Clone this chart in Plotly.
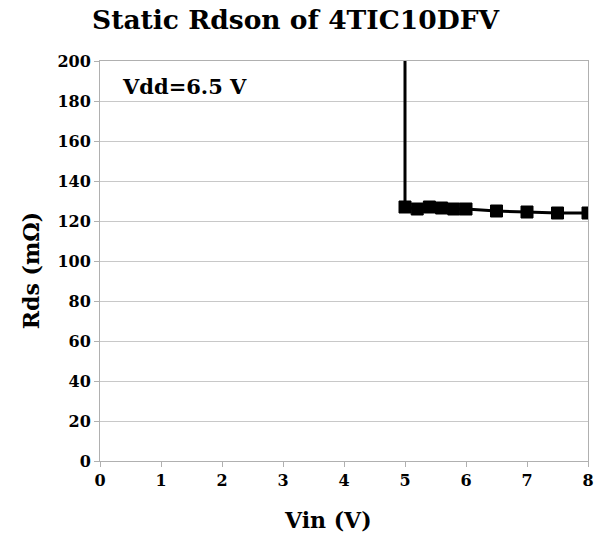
import plotly.graph_objects as go

vin = [5.0, 5.0, 5.2, 5.4, 5.6, 5.8, 6.0, 6.5, 7.0, 7.5, 8.0]
rds = [1000, 127, 126, 127, 126.5, 126, 126, 125, 124.5, 124, 124]
marker_sizes = [0, 12, 12, 12, 12, 12, 12, 12, 12, 12, 12]

x_ticks = [0, 1, 2, 3, 4, 5, 6, 7, 8]
y_ticks = [0, 20, 40, 60, 80, 100, 120, 140, 160, 180, 200]

font_family = "DejaVu Serif"

fig = go.Figure()
fig.add_trace(go.Scatter(
    x=vin, y=rds, mode="lines+markers",
    line=dict(color="black", width=3),
    marker=dict(symbol="square", size=marker_sizes, color="black", opacity=1,
                line=dict(color="black", width=1)),
    cliponaxis=True, showlegend=False,
))

def ann(text, x, y, size, **kw):
    return dict(text=f"<b>{text}</b>", x=x, y=y, xref="paper", yref="paper",
                showarrow=False, font=dict(family=font_family, size=size, color="black"), **kw)

fig.update_layout(
    width=594, height=536,
    margin=dict(l=92, r=14, t=53, b=83),
    paper_bgcolor="white", plot_bgcolor="white",
    font=dict(family=font_family, color="black"),
    annotations=[
        ann("Static Rdson of 4TIC10DFV", 0.401, 1.0, 26.5, xanchor="center", yanchor="bottom", yshift=24),
        ann("Vdd=6.5 V", 0.041, 0.9375, 21, xanchor="left", yanchor="middle"),
        ann("Vin (V)", 0.467, -0.1475, 22, xanchor="center", yanchor="middle"),
        ann("Rds (mΩ)", -0.141, 0.475, 22, xanchor="center", yanchor="middle", textangle=-90),
    ],
)
fig.update_xaxes(
    range=[0, 8], tickvals=x_ticks, ticktext=[str(v) for v in x_ticks],
    showgrid=False, showline=True, linecolor="#b0b0b0", linewidth=1, mirror=True,
    ticks="outside", ticklen=5, tickcolor="#b0b0b0",
    tickfont=dict(family=font_family, size=16, color="black", weight="bold"),
    zeroline=False, automargin=False,
)
fig.update_yaxes(
    range=[0, 200], tickvals=y_ticks, ticktext=[str(v) for v in y_ticks],
    showgrid=True, gridcolor="#c8c8c8", gridwidth=1,
    showline=True, linecolor="#b0b0b0", linewidth=1, mirror=True,
    ticks="outside", ticklen=5, tickcolor="#b0b0b0",
    tickfont=dict(family=font_family, size=16, color="black", weight="bold"),
    zeroline=False, automargin=False,
)

fig.write_html("out.html")
